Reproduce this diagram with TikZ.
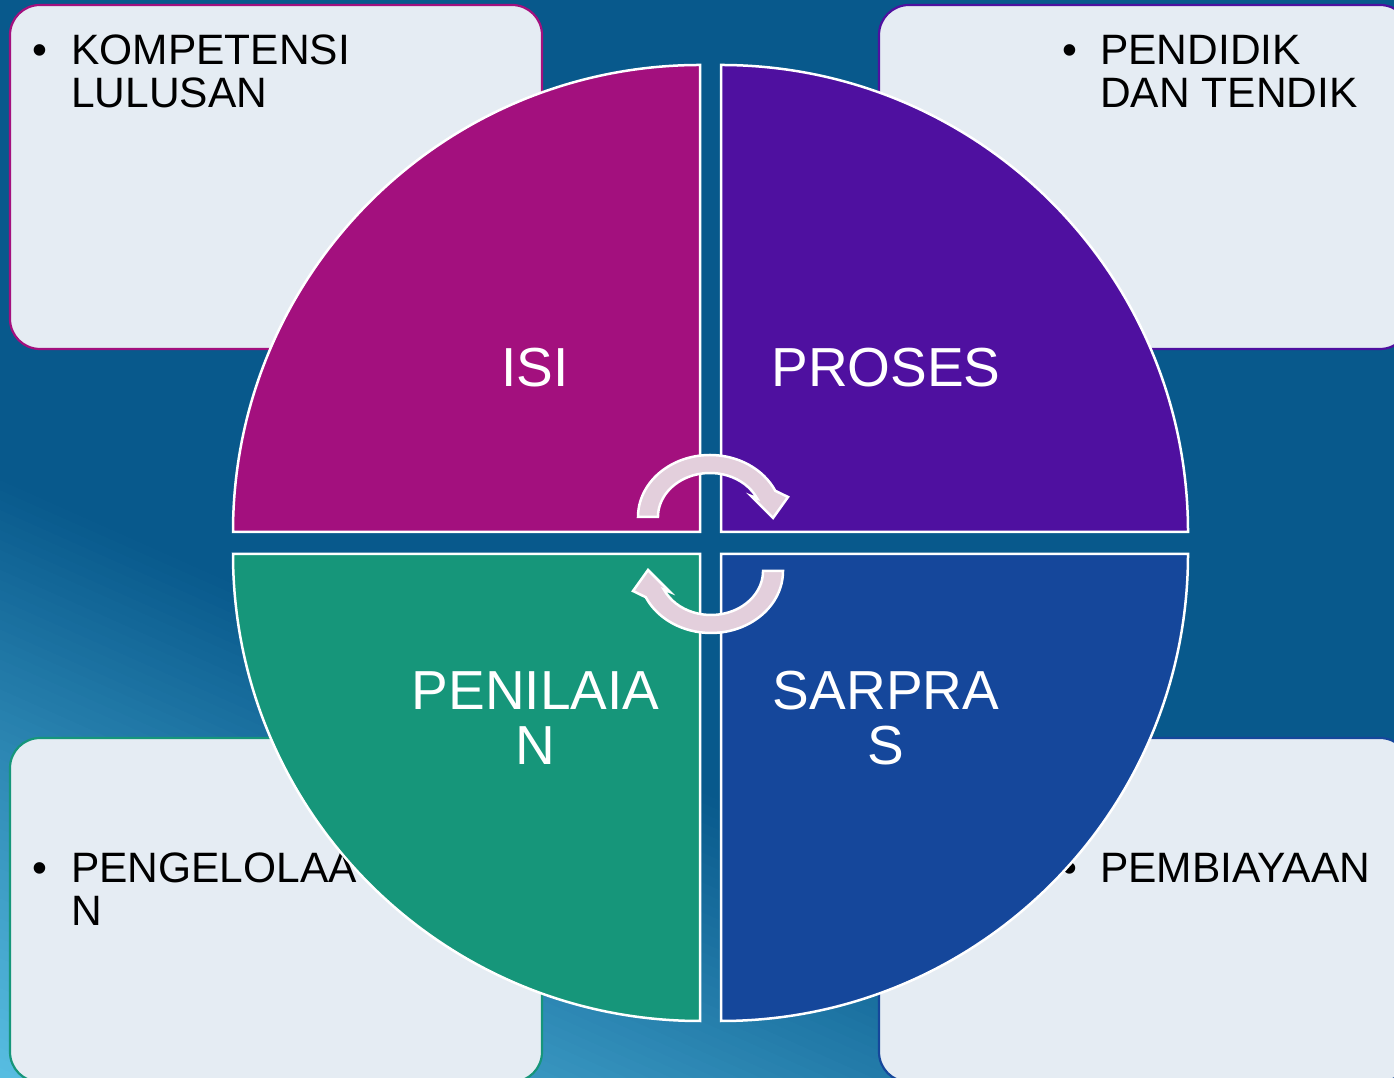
\documentclass[tikz,border=0pt]{standalone}
\usepackage{fontspec}
\setmainfont{Liberation Sans}
\definecolor{bgbase}{RGB}{8,89,140}
\definecolor{bglight}{RGB}{88,190,226}
\definecolor{boxfill}{RGB}{229,236,243}
\definecolor{boxfilllight}{RGB}{236,245,250}
\definecolor{isicol}{RGB}{163,16,126}
\definecolor{prosescol}{RGB}{79,16,160}
\definecolor{penilaiancol}{RGB}{22,150,122}
\definecolor{sarprascol}{RGB}{21,71,155}
\definecolor{arrowfill}{RGB}{227,207,220}
\tikzset{
  infobox/.style={fill=boxfill, line width=2.2pt, rounded corners=30pt},
  quad/.style={draw=white, line width=2.5pt, line join=miter},
  biglabel/.style={text=white, inner sep=0pt, anchor=base, font=\fontsize{55}{55}\selectfont},
  boxtext/.style={text=black, inner sep=0pt, anchor=base west, font=\fontsize{42.5}{43}\selectfont},
  bulletmark/.style={text=black, inner sep=0pt, anchor=base, font=\fontsize{42.5}{43}\selectfont},
  cycarrow/.style={fill=arrowfill, draw=white, line width=2.5pt, line join=miter}
}
\begin{document}
\begin{tikzpicture}[x=1pt,y=1pt]
\useasboundingbox (0,0) rectangle (1394,1078);
\clip (0,0) rectangle (1394,1078);
% background
\fill[bgbase] (0,0) rectangle (1394,1078);
\begin{scope}[rotate around={-24:(0,598)}]
  \foreach \i in {0,...,59}{
    \pgfmathsetmacro\p{100*(\i+0.5)/60}
    \fill[bglight!\p!bgbase] (-1500,{598-\i*9.1}) rectangle (3000,{598-(\i+1)*9.1-0.6});
  }
  \fill[bglight] (-1500,-2000) rectangle (3000,52.5);
\end{scope}
% boxes
\draw[infobox, draw=isicol] (10,729) rectangle (542,1073);
\draw[infobox, draw=prosescol] (879,729) rectangle (1410,1073);
\draw[infobox, draw=penilaiancol] (10,-4) rectangle (542,340);
\draw[infobox, draw=sarprascol] (879,-4) rectangle (1410,340);
% box texts
\node[bulletmark] (b1) at (40,1013) {•};
\node[boxtext] (t1a) at (71,1013) {KOMPETENSI};
\node[boxtext] (t1b) at (71,970) {LULUSAN};
\node[bulletmark] (b2) at (1070,1013) {•};
\node[boxtext] (t2a) at (1100,1013) {PENDIDIK};
\node[boxtext] (t2b) at (1100,970) {DAN TENDIK};
\node[bulletmark] (b3) at (40,195) {•};
\node[boxtext] (t3a) at (71,195) {PENGELOLAA};
\node[boxtext] (t3b) at (71,152) {N};
\node[bulletmark] (b4) at (1070,195) {•};
\node[boxtext] (t4a) at (1100,195) {PEMBIAYAAN};
% quadrants
\draw[quad, fill=isicol] (700,546) -- (233,546) arc[start angle=180, end angle=90, radius=467] -- cycle;
\draw[quad, fill=prosescol] (721,546) -- (721,1013) arc[start angle=90, end angle=0, radius=467] -- cycle;
\draw[quad, fill=penilaiancol] (700,524) -- (233,524) arc[start angle=180, end angle=270, radius=467] -- cycle;
\draw[quad, fill=sarprascol] (721,524) -- (1188,524) arc[start angle=0, end angle=-90, radius=467] -- cycle;
% labels
\node[biglabel] (isi) at (535,691) {ISI};
\node[biglabel] (proses) at (886,691) {PROSES};
\node[biglabel] (pen1) at (535.5,368) {PENILAIA};
\node[biglabel] (pen2) at (535,313) {N};
\node[biglabel] (sar1) at (886,368) {SARPRA};
\node[biglabel] (sar2) at (886,313) {S};
% circular arrows
\draw[cycarrow] (638,561) arc[start angle=180, end angle=25, x radius=72, y radius=62]
  -- (788,581) -- (773,560) -- (751,582) -- (757.1,579.6)
  arc[start angle=25, end angle=180, x radius=52, y radius=44] -- cycle;
\begin{scope}[rotate around={180:(710.5,534)}]
\draw[cycarrow] (638,561) arc[start angle=180, end angle=25, x radius=72, y radius=62]
  -- (788,581) -- (773,560) -- (751,582) -- (757.1,579.6)
  arc[start angle=25, end angle=180, x radius=52, y radius=44] -- cycle;
\end{scope}
\end{tikzpicture}
\end{document}
